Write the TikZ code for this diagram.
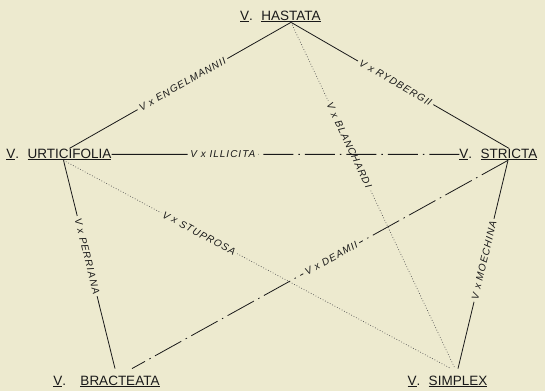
\documentclass[tikz,border=0pt]{standalone}
\usepackage{fontspec}
\setmainfont{Liberation Sans}
\newfontfamily\hybfont[LetterSpace=10]{Liberation Sans}
\usetikzlibrary{positioning}
\definecolor{paper}{RGB}{237,234,207}
\definecolor{ink}{RGB}{25,25,25}

\begin{document}
\begin{tikzpicture}[x=1pt, y=-1pt,
    sp/.style={inner sep=0pt, anchor=base, text=ink, font=\fontsize{13.5}{16}\selectfont},
    low/.style={outer ysep=7pt},
    hyb/.style={sloped, fill=paper, inner sep=2.5pt, text=ink, font=\hybfont\itshape\fontsize{10}{11}\selectfont},
    full/.style={draw=ink, line width=0.8pt},
    dots/.style={draw=ink!75, line width=0.7pt, dotted},
    dashdot/.style={draw=ink, line width=0.8pt, dash pattern=on 30pt off 5pt on 1.5pt off 5pt}]
    \fill[paper] (0,0) rectangle (545,391);
    \useasboundingbox (0,0) rectangle (545,391);
    \node[sp] (Ha) at (291, 20) {\underline{HASTATA}};
    \node[sp, base left=8pt of Ha] (HaV) {\underline{V}.};
    \node[sp] (Ur) at (69.5, 158) {\underline{URTICIFOLIA}};
    \node[sp, base left=8pt of Ur] (UrV) {\underline{V}.};
    \node[sp] (St) at (509, 158) {\underline{STRICTA}};
    \node[sp, base left=8pt of St] (StV) {\underline{V}.};
    \node[sp, low] (Br) at (120, 385) {\underline{BRACTEATA}};
    \node[sp, base left=14pt of Br] (BrV) {\underline{V}.};
    \node[sp, low] (Si) at (458, 385) {\underline{SIMPLEX}};
    \node[sp, base left=8pt of Si] (SiV) {\underline{V}.};
    \draw[full] (Ha.south) to node[hyb, pos=0.49] {V x ENGELMANNII} (Ur.north);
    \draw[full] (Ha.south) to node[hyb, pos=0.48] {V x RYDBERGII} (St.north);
    \draw[dots] (Ha.south) to node[hyb, pos=0.355] {V x BLANCHARDI} ([xshift=-3pt]Si.north);
    \path (Ur.east) to node[hyb, pos=0.32] (Ill) {V x ILLICITA} (StV.west);
    \draw[full] (Ur.east) to (Ill);
    \draw[dashdot] (StV.west) to (Ill);
    \draw[dots] ([xshift=-6pt]Ur.south) to node[hyb, pos=0.35] {V x STUPROSA} ([xshift=-7pt]Si.north);
    \draw[full] ([xshift=-6pt]Ur.south) to node[hyb, pos=0.46] {V x PERRIANA} ([xshift=-5pt]Br.north);
    \draw[dashdot] ([xshift=-1pt]St.south) to node[hyb, pos=0.47] {V x DEAMII} ([xshift=12pt]Br.north);
    \draw[full] ([xshift=-1pt]St.south) to node[hyb, pos=0.48] {V x MOECHINA} (Si.north);
\end{tikzpicture}
\end{document}
